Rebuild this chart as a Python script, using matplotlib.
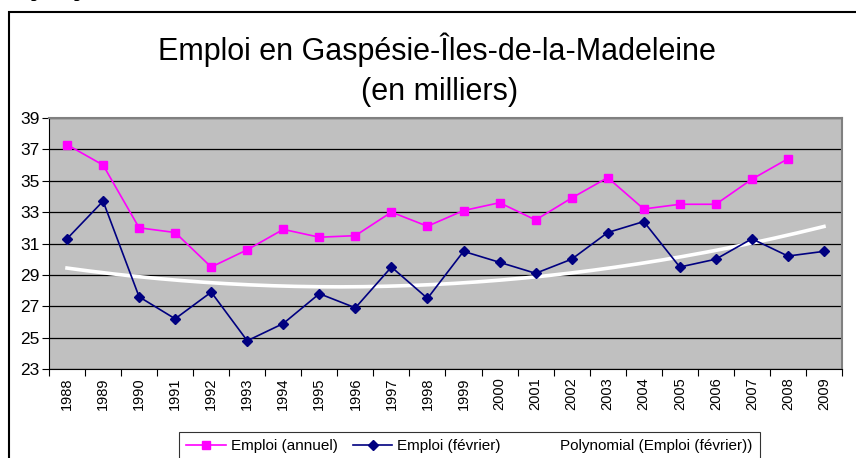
import numpy as np
import matplotlib
matplotlib.use("Agg")
from matplotlib import pyplot as plt
from matplotlib.patches import Rectangle
from matplotlib.lines import Line2D

years = [str(y) for y in range(1988, 2010)]
emploi_annuel = [37.3, 36.0, 32.0, 31.7, 29.5, 30.6, 31.9, 31.4, 31.5, 33.0, 32.1,
                 33.1, 33.6, 32.5, 33.9, 35.2, 33.2, 33.5, 33.5, 35.1, 36.4, None]
emploi_fevrier = [31.3, 33.7, 27.6, 26.2, 27.9, 24.8, 25.9, 27.8, 26.9, 29.5, 27.5,
                  30.5, 29.8, 29.1, 30.0, 31.7, 32.4, 29.5, 30.0, 31.3, 30.2, 30.5]
y_ticks = list(range(23, 40, 2))

plt.rcParams["font.family"] = ["Liberation Sans", "DejaVu Sans"]

W, H = 856, 458
fig = plt.figure(figsize=(W / 100, H / 100), dpi=100)
fig.patch.set_facecolor("white")

# chart frame (runs off the right and bottom of the picture)
fig.add_artist(Rectangle((9 / W, -0.2), 1.2, 1.2 - 12 / H, transform=fig.transFigure,
                         fill=False, edgecolor="black", linewidth=1.5))

# bits of the line of text above the frame, only the descenders show
for px in (36, 79):
    fig.text(px / W, 1 + 3 / H, "p", ha="center", va="baseline", fontsize=14,
             fontweight="bold", family="Liberation Serif")

fig.text(437 / W, 1 - 60 / H, "Emploi en Gaspésie-Îles-de-la-Madeleine",
         ha="center", va="baseline", fontsize=22)
fig.text(440 / W, 1 - 100 / H, "(en milliers)", ha="center", va="baseline", fontsize=22)

ax = fig.add_axes([49 / W, 1 - 369 / H, (842 - 49) / W, (369 - 118) / H])
ax.set_facecolor("#C0C0C0")

x = np.arange(len(years))
annuel = np.array([np.nan if v is None else v for v in emploi_annuel])
fev = np.array(emploi_fevrier)

# Excel-style polynomial (order 2) trendline of the February series
coef = np.polyfit(x, fev, 2)
xs = np.linspace(0, len(years) - 1, 200)
ax.plot(xs, np.polyval(coef, xs), color="white", lw=2.6, zorder=3)

ax.plot(x, annuel, color="#FF00FF", lw=1.2, marker="s", ms=6.3, zorder=4)
ax.plot(x, fev, color="#000080", lw=1.2, marker="D", ms=5.5, zorder=4)

ax.set_xlim(-0.5, len(years) - 0.5)
ax.set_ylim(23, 39)
ax.set_yticks(y_ticks)
ax.set_yticklabels([str(v) for v in y_ticks], fontsize=12.5)
ax.yaxis.grid(True, color="black", lw=0.9)
ax.set_axisbelow(True)

ax.set_xticks(np.arange(-0.5, len(years), 1))
ax.set_xticklabels([])
ax.set_xticks(x, minor=True)
ax.set_xticklabels(years, minor=True, rotation=90, fontsize=10.5)
ax.tick_params(axis="x", which="major", length=5, direction="out", width=0.8)
ax.tick_params(axis="x", which="minor", length=0, pad=6)
ax.tick_params(axis="y", length=5, direction="out", width=0.8, pad=2)

for side in ("top", "right"):
    ax.spines[side].set_color("#808080")
    ax.spines[side].set_linewidth(1.5)
for side in ("left", "bottom"):
    ax.spines[side].set_color("black")
    ax.spines[side].set_linewidth(0.8)

handles = [
    Line2D([], [], color="#FF00FF", lw=1.2, marker="s", ms=6.3),
    Line2D([], [], color="#000080", lw=1.2, marker="D", ms=5.5),
    Line2D([], [], color="white", lw=2.6),
]
labels = ["Emploi (annuel)", "Emploi (février)", "Polynomial (Emploi (février))"]
leg = fig.legend(handles, labels, loc="upper left",
                 bbox_to_anchor=(171 / W, 1 - 424 / H), ncol=3, frameon=True,
                 fancybox=False, edgecolor="black", handlelength=2.6,
                 columnspacing=1.0, handletextpad=0.3, borderpad=0.5,
                 prop={"family": ["Liberation Sans Narrow", "Liberation Sans"], "size": 11})
leg.get_frame().set_linewidth(0.8)

fig.savefig("out.png", dpi=100)
